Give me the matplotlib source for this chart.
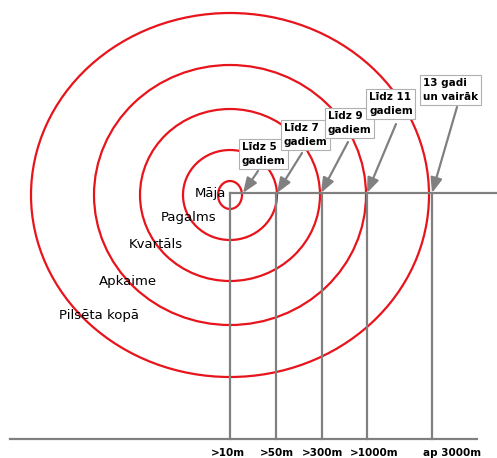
import matplotlib.pyplot as plt
from matplotlib.patches import Ellipse

# ring sizes (pixels, centre of the drawing)
centre = (230, 195)
ring_rx = [12, 47, 90, 136, 199]
ring_ry = [14, 45, 86, 130, 182]

# places, one per ring
places = ['Māja', 'Pagalms', 'Kvartāls', 'Apkaime', 'Pilsēta kopā']
place_xy = [(210, 193), (189, 217), (156, 244), (128, 282), (99, 315)]

# distances on the lower line
dist_labels = ['>10m', '>50m', '>300m', '>1000m', 'ap 3000m']
dist_x = [230, 276, 322, 367, 432]
label_x = [228, 277, 323, 374, 452]

# ages with arrows onto the upper line
ages = ['Līdz 5\ngadiem', 'Līdz 7\ngadiem', 'Līdz 9\ngadiem',
        'Līdz 11\ngadiem', '13 gadi\nun vairāk']
age_box_xy = [(242, 154), (284, 135), (328, 123), (369, 104), (423, 90)]
arrow_from = [(258, 171), (302, 153), (348, 142), (396, 124), (457, 107)]
arrow_to = [(243, 193), (277, 193), (321, 193), (367, 193), (432, 193)]

upper_y = 193
lower_y = 439

red = '#e8141c'
grey = '#808080'

fig = plt.figure(figsize=(4.97, 4.58), dpi=100)
ax = fig.add_axes([0, 0, 1, 1])
ax.set_xlim(0, 497)
ax.set_ylim(458, 0)
ax.axis('off')

for rx, ry in zip(ring_rx, ring_ry):
    ax.add_patch(Ellipse(centre, 2 * rx, 2 * ry, fill=False,
                         edgecolor=red, lw=1.6, zorder=2))

# grey frame
ax.plot([230, 497], [upper_y, upper_y], color=grey, lw=1.6, zorder=3)
ax.plot([10, 477], [lower_y, lower_y], color=grey, lw=1.6, zorder=3)
for x in dist_x:
    ax.plot([x, x], [upper_y, lower_y], color=grey, lw=1.6, zorder=3)

for lab, lx in zip(dist_labels, label_x):
    ax.text(lx, 453, lab, ha='center', va='center', fontsize=7.5,
            fontweight='bold', color='black')

for name, (x, y) in zip(places, place_xy):
    ax.text(x, y, name, ha='center', va='center', fontsize=9.5, color='black', zorder=4)

for lab, (x, y) in zip(ages, age_box_xy):
    ax.text(x, y, lab, ha='left', va='center', fontsize=7.5, fontweight='bold',
            linespacing=1.6, zorder=5,
            bbox=dict(boxstyle='square,pad=0.25', fc='white', ec='#b0b0b0', lw=0.8))

for (x0, y0), (x1, y1) in zip(arrow_from, arrow_to):
    ax.annotate('', xy=(x1, y1), xytext=(x0, y0), zorder=4,
                arrowprops=dict(arrowstyle='-|>,head_length=0.9,head_width=0.35',
                                color=grey, lw=1.6, shrinkA=0, shrinkB=0))

fig.savefig('out.png', dpi=100)
